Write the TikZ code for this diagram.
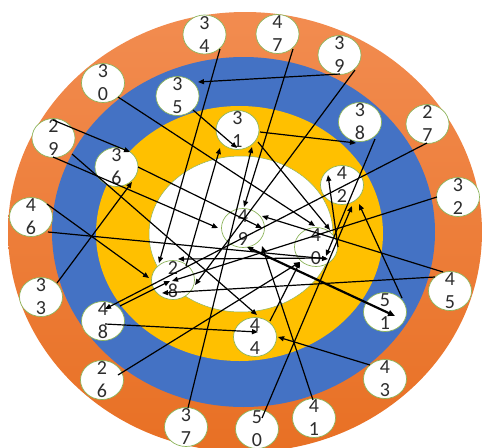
\documentclass[tikz,border=0pt]{standalone}
\usepackage{fontspec}
\setmainfont{Carlito}
\usetikzlibrary{arrows.meta,shapes.geometric}
\definecolor{orTop}{RGB}{242,140,80}
\definecolor{orBot}{RGB}{232,112,36}
\definecolor{ringblue}{RGB}{68,114,196}
\definecolor{ringyellow}{RGB}{255,192,0}
\definecolor{nodegreen}{RGB}{140,180,90}
\definecolor{digit}{RGB}{45,45,45}
\tikzset{
 numnode/.style={ellipse, draw=nodegreen, line width=0.7pt, fill=white, minimum width=43pt, minimum height=39pt, inner sep=0pt},
 numtext/.style={align=center, inner sep=0pt, text=digit, font=\fontsize{20}{23}\selectfont},
 arr/.style={draw=black, line width=1.2pt, -{Triangle[length=6pt,width=5pt]}},
 thickarr/.style={draw=black, line width=2.2pt, {Triangle[length=6pt,width=5pt]}-{Triangle[length=7pt,width=6pt]}},
}
\begin{document}
\begin{tikzpicture}[x=1pt,y=-1pt]
\useasboundingbox (0,0) rectangle (483,448);
\shade[top color=orTop,bottom color=orBot] (245,232) ellipse [x radius=237pt,y radius=220pt];
\fill[ringblue] (243.5,232) ellipse [x radius=191.5pt,y radius=175pt];
\fill[ringyellow] (239.5,233.5) ellipse [x radius=143.5pt,y radius=127.5pt];
\filldraw[fill=white,draw=nodegreen,line width=0.5pt] (241,234) ellipse [x radius=92pt,y radius=78pt];
\foreach \a/\b/\x/\y in {2/6/102/380, 2/7/427.5/124, 2/8/173/280, 2/9/53.5/138, 3/0/103/83,
  3/1/237.5/130, 3/2/458/197, 3/3/41/297, 3/4/204.5/34.5, 3/5/177.5/96, 3/6/116.5/167,
  3/7/186/427, 3/8/360/122, 3/9/339.5/55, 4/0/316/247, 4/1/314/418, 4/2/342/185,
  4/3/385/379, 4/4/255/337, 4/5/450/291, 4/6/31/217, 4/7/277.5/34, 4/8/103/321,
  4/9/243/228, 5/0/257/429, 5/1/385/312}
{
  \node[numnode] (n\a\b) at (\x,\y) {};
  \node[numtext] (t\a\b) at (n\a\b.center) {\a\\\b};
}
\foreach \s/\sx/\sy/\e/\ex/\ey in {
 39/0.5/19/35/20.5/-14,
 34/15.5/14.5/28/-14/-17,
 47/15.5/15/49/1/-21,
 39/15.5/15/28/22/5,
 30/15/14/40/-1/-21,
 35/15.5/14/31/-0.5/18,
 31/22.5/2/38/-4/21,
 38/15/17/40/10/9,
 27/-0.5/19/48/2/-12,
 32/-21/0/28/-1/1,
 29/-0.5/-18/36/13.5/-15,
 29/-0.5/19/49/-25/0,
 29/18.5/16/44/2/-22,
 36/21.5/0/49/19/0,
 46/16/-13/28/-24/-2,
 46/17/15/40/12/12,
 33/16/-14/36/15.5/15,
 48/2/3/44/3/-5,
 26/16/-5/40/-16/15,
 28/13/-14/31/-17.5/18,
 50/5/-11/42/10/21,
 41/-1/-18/49/19/18,
 43/-15/-14/44/23/0,
 51/17/-14/42/17/19,
 45/-7/-19/49/19/-12,
 45/-15/-14/28/-11/13,
 40/22/0/42/-14/-10,
 44/15/-16/40/-16/15,
 40/10/11/28/5/-21,
 48/17/-15/28/-3/1,
 37/2/-19/31/14.5/17,
 31/20.5/12/40/14/-17}
{
  \draw[arr] ([shift={(\sx,\sy)}]n\s.center) -- ([shift={(\ex,\ey)}]n\e.center);
}
\draw[thickarr] ([shift={(4,19)}]n49.center) -- ([shift={(10,4)}]n51.center);
\end{tikzpicture}
\end{document}
